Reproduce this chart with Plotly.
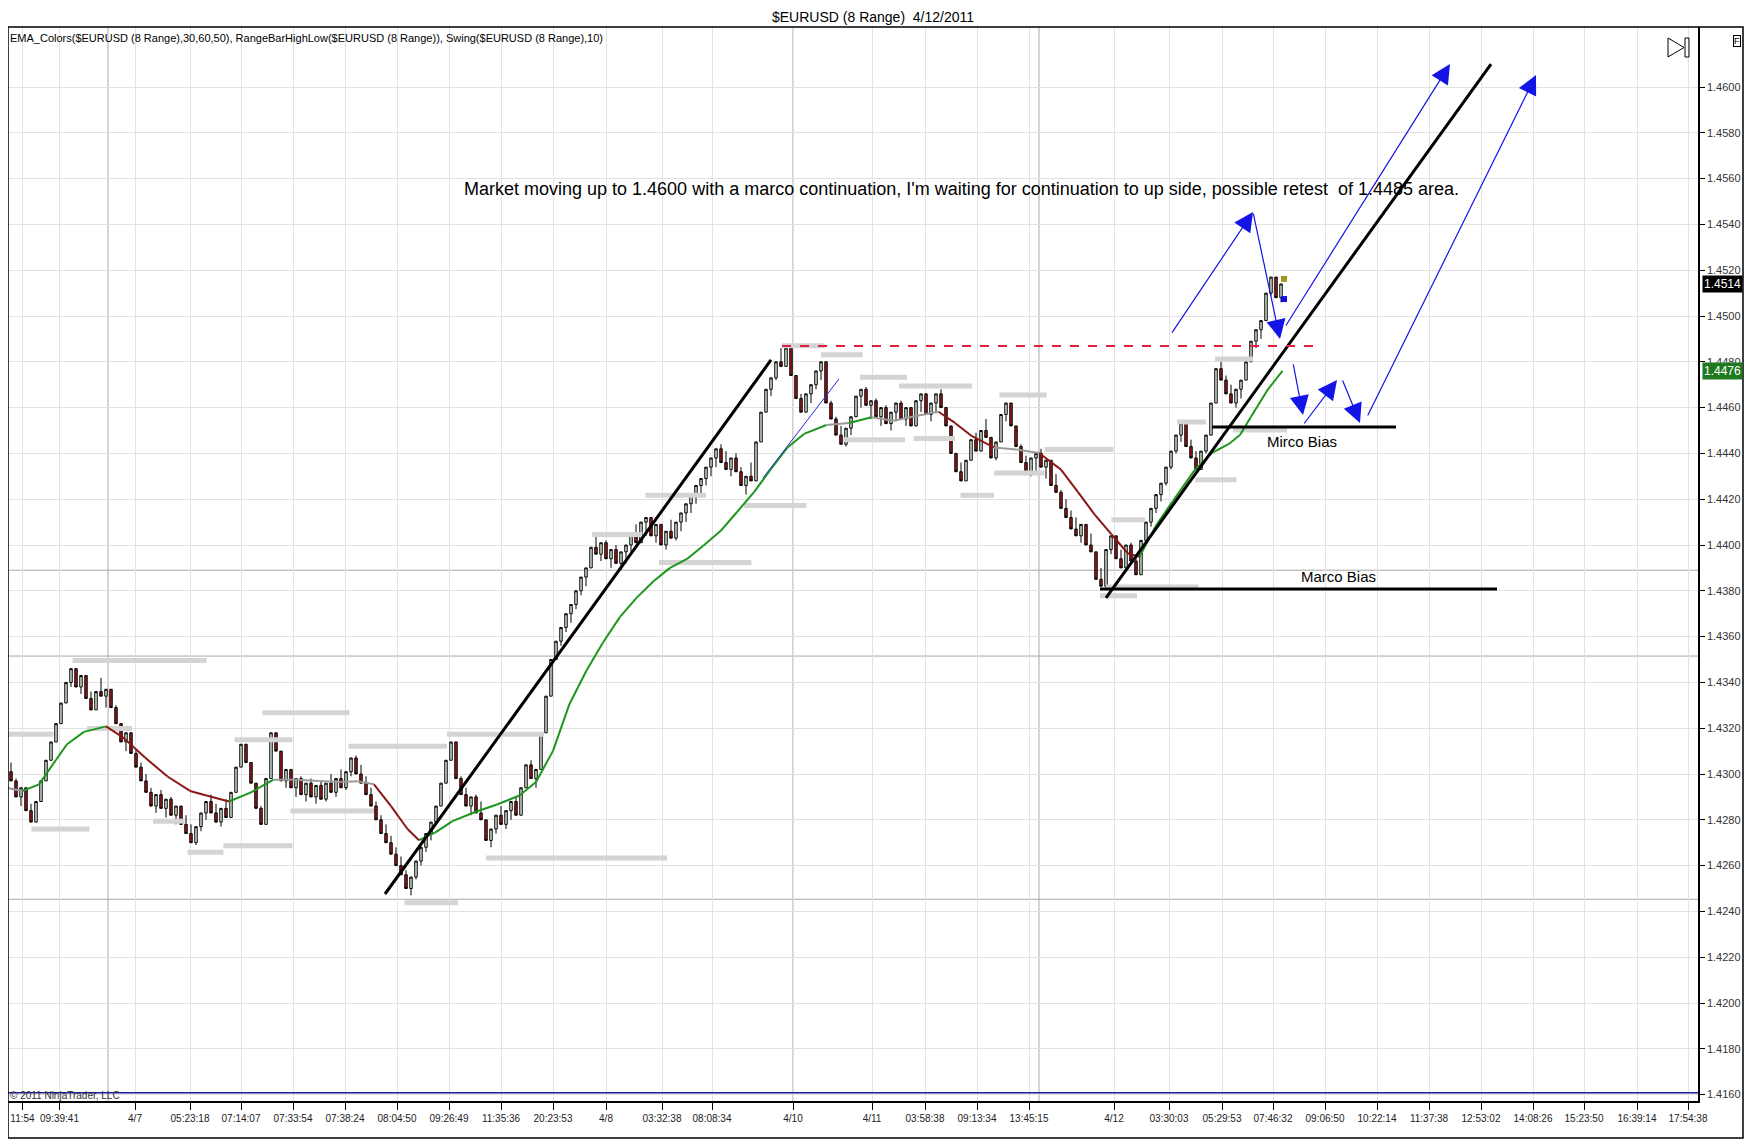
import plotly.graph_objects as go

# 8 range bars, close in pips above 1.0000 (4301 -> 1.4301)
closes = [
    4301, 4297, 4290, 4294, 4284, 4279, 4288, 4297, 4306, 4314,
    4322, 4331, 4340, 4346, 4338, 4343, 4333, 4328, 4336, 4334,
    4337, 4329, 4322, 4314, 4318, 4309, 4303, 4297, 4292, 4286,
    4291, 4285, 4289, 4282, 4286, 4278, 4274, 4270, 4277, 4283,
    4288, 4283, 4279, 4285, 4281, 4292, 4303, 4313, 4305, 4296,
    4285, 4278, 4298, 4318, 4310, 4297, 4302, 4294, 4298, 4291,
    4296, 4290, 4295, 4289, 4296, 4292, 4298, 4294, 4301, 4307,
    4300, 4296, 4291, 4286, 4280, 4274, 4270, 4265, 4260, 4256,
    4250, 4255, 4262, 4268, 4274, 4279, 4286, 4296, 4306, 4314,
    4298, 4291, 4286, 4290, 4283, 4280, 4271, 4276, 4282, 4278,
    4284, 4288, 4282, 4294, 4304, 4298, 4302, 4318, 4334, 4350,
    4358, 4364, 4370, 4374, 4380, 4386, 4390, 4399, 4396, 4401,
    4394, 4398, 4392, 4397, 4400, 4405, 4401, 4410, 4412, 4404,
    4409, 4400, 4406, 4403, 4410, 4414, 4418, 4422, 4426, 4429,
    4434, 4438, 4442, 4436, 4433, 4438, 4432, 4426, 4430, 4428,
    4445, 4458, 4468, 4473, 4480, 4478, 4486, 4474, 4464, 4458,
    4466, 4470, 4476, 4480, 4462, 4455, 4448, 4444, 4451, 4456,
    4465, 4468, 4461, 4463, 4456, 4460, 4453, 4458, 4462, 4455,
    4460, 4452, 4463, 4466, 4457, 4462, 4466, 4460, 4452, 4440,
    4432, 4428, 4437, 4446, 4441, 4450, 4447, 4438, 4445, 4457,
    4462, 4452, 4443, 4436, 4431, 4438, 4440, 4434, 4437, 4426,
    4423, 4416, 4412, 4407, 4404, 4409, 4400, 4397, 4385, 4382,
    4398, 4404, 4394, 4390, 4400, 4393, 4387, 4402, 4410, 4416,
    4422, 4427, 4434, 4441, 4448, 4453, 4443, 4438, 4433, 4441,
    4448, 4462, 4477, 4472, 4466, 4462, 4468, 4472, 4480, 4489,
    4494, 4498, 4510, 4517, 4508, 4514,
]
first_open = 4305
bar_range = 8  # pips per range bar

time_labels = ["11:54", "09:39:41", "4/7", "05:23:18", "07:14:07", "07:33:54", "07:38:24",
               "08:04:50", "09:26:49", "11:35:36", "20:23:53", "4/8", "03:32:38", "08:08:34",
               "4/10", "4/11", "03:58:38", "09:13:34", "13:45:15", "4/12", "03:30:03",
               "05:29:53", "07:46:32", "09:06:50", "10:22:14", "11:37:38", "12:53:02",
               "14:08:26", "15:23:50", "16:39:14", "17:54:38"]
time_pos = [3.3, 10.7, 25.8, 36.8, 47.0, 57.4, 67.8, 78.2, 88.6, 99.0, 109.4, 120.0, 131.2,
            141.2, 157.4, 173.2, 183.8, 194.2, 204.6, 221.6, 232.6, 243.2, 253.4, 263.8,
            274.2, 284.6, 295.0, 305.4, 315.6, 326.2, 336.4]
session_pos = [20.4, 157.4, 206.6]
y_ticks = [1.4160 + 0.002 * k for k in range(23)]

# EMA_Colors line
ema_pos = [0, 3.3, 6.6, 10, 12.2, 15.6, 20, 23.4, 27.8, 32.3, 36.8, 40.1, 44.6, 49, 53.5, 58,
           62.5, 66.9, 70.3, 73.6, 77, 80.3, 82.6, 85.9, 89.3, 93.7, 98.2, 102.7, 106, 109.4,
           112.7, 116.1, 119.4, 122.8, 126.1, 129.5, 132.8, 136.2, 139.5, 142.9, 146.2, 149.6,
           152.9, 156.3, 159.6, 164.1, 168.6, 173.1, 177.5, 182, 186.5, 189.8, 193.2, 197.6,
           202.1, 206.6, 211, 214.4, 217.7, 221.1, 224.4, 226.7, 230, 233.4, 237.8, 241.2,
           244.5, 246.8, 249, 252.4, 255.3]
ema_val = [1.42940, 1.42926, 1.42955, 1.43062, 1.43130, 1.43184, 1.43208, 1.43160, 1.43072,
           1.42989, 1.42926, 1.42906, 1.42880, 1.42920, 1.42975, 1.42975, 1.42970, 1.42965,
           1.42968, 1.42955, 1.42860, 1.42760, 1.42711, 1.42745, 1.42794, 1.42833, 1.42867,
           1.42906, 1.42965, 1.43101, 1.43306, 1.43452, 1.43574, 1.43686, 1.43769, 1.43842,
           1.43900, 1.43939, 1.43998, 1.44061, 1.44144, 1.44231, 1.44329, 1.44426, 1.44485,
           1.44524, 1.44533, 1.44558, 1.44543, 1.44563, 1.44582, 1.44533, 1.44475, 1.44426,
           1.44417, 1.44402, 1.44329, 1.44231, 1.44134, 1.44046, 1.43963, 1.43949, 1.44085,
           1.44193, 1.44329, 1.44402, 1.44440, 1.44480, 1.44560, 1.44680, 1.44760]

# RangeBarHighLow levels
level_start = [0, 5.1, 13.3, 16.2, 29.4, 36.3, 45.7, 43.5, 51.3, 56.9, 68.5, 79.7, 88.2, 96,
               117.2, 127.9, 130.6, 147.6, 155.2, 163, 170.8, 178.6, 167.5, 181.5, 190.9,
               197.6, 198.7, 207.7, 220, 218.8, 221.1, 234.2, 237.8, 241.8, 245.4]
level_end = [9.5, 16.7, 40.1, 25.2, 35.7, 43.5, 57.3, 57.3, 68.7, 73.6, 88.2, 90.4, 107.6,
             132.2, 127.3, 140, 149.1, 160.1, 163.7, 171.3, 180.2, 193.2, 179.8, 189.8, 197.6,
             207.7, 208.1, 221.5, 238.5, 226.2, 227.8, 240, 246.1, 249.4, 256.2]
level_price = [1.43174, 1.42760, 1.43496, 1.43199, 1.42794, 1.42658, 1.43150, 1.42687,
               1.43267, 1.42838, 1.43121, 1.42438, 1.43174, 1.42633, 1.44046, 1.44217,
               1.43924, 1.44173, 1.44870, 1.44831, 1.44733, 1.44694, 1.44460, 1.44465,
               1.44217, 1.44314, 1.44655, 1.44417, 1.43817, 1.43778, 1.44110, 1.44537,
               1.44285, 1.44812, 1.44502]

# hand drawn objects
trend_x0 = [75.8, 220.0]
trend_y0 = [1.42476, 1.43769]
trend_x1 = [153.0, 297.0]
trend_y1 = [1.44808, 1.46100]
marco_bias = (218.8, 298.2, 1.43808)
mirco_bias = (241.2, 278.0, 1.44515)
retest_line = (155.2, 262.6, 1.44869)
thin_line = (151.4, 1.44293, 166.6, 1.44725)
arrow_tail_x = [233.0, 249.4, 255.8, 257.4, 259.4, 267.2, 272.2]
arrow_tail_y = [1.44921, 1.45454, 1.44952, 1.44795, 1.44524, 1.44725, 1.44559]
arrow_tip_x = [249.4, 254.8, 288.8, 259.4, 266.2, 270.8, 306.0]
arrow_tip_y = [1.45454, 1.44900, 1.46100, 1.44568, 1.44720, 1.44533, 1.46052]
dark_levels = [1.43890, 1.43515, 1.42453]
blue_level = 1.41608
swing_x = [255.6, 255.6]
swing_y = [1.45162, 1.45074]

note = ("Market moving up to 1.4600 with a marco continuation, I'm waiting for "
        "continuation to up side, possible retest  of 1.4485 area.")

opens = [first_open] + closes[:-1]
o, h, l, c = [], [], [], []
for op, cl in zip(opens, closes):
    if cl >= op:
        hi, lo = max(cl, op), min(op, cl - bar_range)
    else:
        hi, lo = max(op, cl + bar_range), min(cl, op)
    o.append(1 + op / 10000)
    h.append(1 + hi / 10000)
    l.append(1 + lo / 10000)
    c.append(1 + cl / 10000)
bars = list(range(len(closes)))

fig = go.Figure()

fig.add_trace(go.Candlestick(
    x=bars, open=o, high=h, low=l, close=c,
    increasing=dict(fillcolor="#d6eed6", line=dict(color="black", width=1)),
    decreasing=dict(fillcolor="#9e1b1b", line=dict(color="black", width=1)),
    whiskerwidth=0, hoverinfo="skip", showlegend=False,
))

# level bars
lx, ly = [], []
for a, b, p in zip(level_start, level_end, level_price):
    lx += [a, b, None]
    ly += [p, p, None]
fig.add_trace(go.Scatter(x=lx, y=ly, mode="lines", line=dict(color="#d4d4d4", width=5),
                         hoverinfo="skip", showlegend=False))

# EMA coloured by direction
ema_cols = {"up": "#1e961e", "down": "#8b1616", "flat": "#9a9a9a"}
segs = {k: ([], []) for k in ema_cols}
for i in range(len(ema_pos) - 1):
    slope = (ema_val[i + 1] - ema_val[i]) / (ema_pos[i + 1] - ema_pos[i])
    key = "up" if slope > 0.00005 else ("down" if slope < -0.00005 else "flat")
    segs[key][0].extend([ema_pos[i], ema_pos[i + 1], None])
    segs[key][1].extend([ema_val[i], ema_val[i + 1], None])
for key, (sx, sy) in segs.items():
    fig.add_trace(go.Scatter(x=sx, y=sy, mode="lines", line=dict(color=ema_cols[key], width=2),
                             hoverinfo="skip", showlegend=False))

fig.add_trace(go.Scatter(x=swing_x, y=swing_y, mode="markers",
                         marker=dict(symbol="square", size=6, color=["#9b9b1e", "#1010e0"]),
                         hoverinfo="skip", showlegend=False))

# page is drawn inside the browser's 8px body margin, so paper units are
# plot-relative: 1690 px wide, 1074 px tall
PW, PH = 1690.0, 1074.0

shapes = []
for p in session_pos:
    shapes.append(dict(type="line", xref="x", yref="paper", x0=p, x1=p, y0=0, y1=1,
                       line=dict(color="#a8a8a8", width=1), layer="below"))
for p in dark_levels:
    shapes.append(dict(type="line", xref="paper", yref="y", x0=0, x1=1, y0=p, y1=p,
                       line=dict(color="#a8a8a8", width=1), layer="below"))
shapes.append(dict(type="line", xref="paper", yref="y", x0=0, x1=1, y0=blue_level, y1=blue_level,
                   line=dict(color="#1c1c9c", width=1.5)))
for x0, y0, x1, y1 in zip(trend_x0, trend_y0, trend_x1, trend_y1):
    shapes.append(dict(type="line", x0=x0, y0=y0, x1=x1, y1=y1, line=dict(color="black", width=3)))
for a, b, p in (marco_bias, mirco_bias):
    shapes.append(dict(type="line", x0=a, x1=b, y0=p, y1=p, line=dict(color="black", width=3)))
shapes.append(dict(type="line", x0=retest_line[0], x1=retest_line[1], y0=retest_line[2],
                   y1=retest_line[2], line=dict(color="#e0203c", width=2, dash="dash")))
shapes.append(dict(type="line", x0=thin_line[0], y0=thin_line[1], x1=thin_line[2], y1=thin_line[3],
                   line=dict(color="#2828e0", width=1)))
# outer frame and the little toolbar glyphs
shapes.append(dict(type="rect", xref="paper", yref="paper", x0=0, x1=1735 / PW,
                   y0=-37 / PH, y1=1, line=dict(color="black", width=1.5)))
shapes.append(dict(type="path", xref="paper", yref="paper",
                   path="M 0.98225 0.98976 L 0.99172 0.98091 L 0.98225 0.97207 Z",
                   line=dict(color="black", width=1)))
shapes.append(dict(type="rect", xref="paper", yref="paper", x0=0.99231, x1=0.99467,
                   y0=0.97207, y1=0.98976, line=dict(color="black", width=1)))
fig.update_layout(shapes=shapes)

annotations = []
for x0, y0, x1, y1 in zip(arrow_tail_x, arrow_tail_y, arrow_tip_x, arrow_tip_y):
    annotations.append(dict(x=x1, y=y1, ax=x0, ay=y0, xref="x", yref="y", axref="x", ayref="y",
                            text="", showarrow=True, arrowhead=2, arrowsize=3.2, arrowwidth=1.2,
                            arrowcolor="#1414e6"))
annotations += [
    dict(x=191, y=1.45555, text=note, showarrow=False,
         font=dict(size=18, color="black")),
    dict(x=266.4, y=marco_bias[2], yanchor="bottom", yshift=2, text="Marco Bias", showarrow=False,
         font=dict(size=15, color="black")),
    dict(x=259.2, y=mirco_bias[2], yanchor="top", yshift=-4, text="Mirco Bias", showarrow=False,
         font=dict(size=15, color="black")),
    dict(xref="paper", yref="paper", x=865 / PW, y=1 + 10 / PH, text="$EURUSD (8 Range)  4/12/2011",
         showarrow=False, yanchor="middle", font=dict(size=14, color="black")),
    dict(xref="paper", yref="paper", x=0.0, y=1 - 11 / PH, xanchor="left", yanchor="middle",
         text="EMA_Colors($EURUSD (8 Range),30,60,50), RangeBarHighLow($EURUSD (8 Range)), Swing($EURUSD (8 Range),10)",
         showarrow=False, font=dict(size=11, color="black")),
    dict(xref="paper", yref="y", x=0.0, y=blue_level, xanchor="left", yanchor="middle", yshift=-3,
         text="© 2011 NinjaTrader, LLC", showarrow=False,
         font=dict(size=10, color="#333333")),
    dict(xref="paper", yref="y", x=1 + 4 / PW, y=c[-1], xanchor="left", text=f"{c[-1]:.4f}",
         showarrow=False, bgcolor="black", borderpad=1, font=dict(size=12, color="white")),
    dict(xref="paper", yref="y", x=1 + 4 / PW, y=ema_val[-1], xanchor="left", text=f"{ema_val[-1]:.4f}",
         showarrow=False, bgcolor="#1f7a1f", borderpad=1, font=dict(size=12, color="white")),
    dict(xref="paper", yref="paper", x=1733 / PW, y=1 - 8 / PH, xanchor="right", text="F",
         showarrow=False, bordercolor="black", borderwidth=1, borderpad=0,
         font=dict(size=9, color="black")),
]
fig.update_layout(annotations=annotations)

fig.update_layout(
    width=1736, height=1131,
    margin=dict(l=0, r=46, t=19, b=38),
    plot_bgcolor="white", paper_bgcolor="white",
    font=dict(family="Arial, Liberation Sans", size=11, color="black"),
    showlegend=False,
    hovermode=False,
)
fig.update_xaxes(
    range=[0.4, 338.4], tickmode="array", tickvals=time_pos, ticktext=time_labels,
    showgrid=True, gridcolor="#e2e2e2", gridwidth=1, zeroline=False,
    showline=True, linecolor="black", linewidth=1.5, ticks="outside", ticklen=7, tickcolor="black",
    tickangle=0, tickfont=dict(size=10, color="#222222"),
    rangeslider=dict(visible=False),
)
fig.update_yaxes(
    side="right", range=[1.415721, 1.462620], tickmode="array", tickvals=y_ticks,
    ticktext=[f"{v:.4f}" for v in y_ticks],
    showgrid=True, gridcolor="#e2e2e2", gridwidth=1, zeroline=False,
    showline=True, linecolor="black", linewidth=1.5, ticks="outside", ticklen=5, tickcolor="black",
    tickfont=dict(size=11, color="#333333"),
)

fig.write_html("out.html")
